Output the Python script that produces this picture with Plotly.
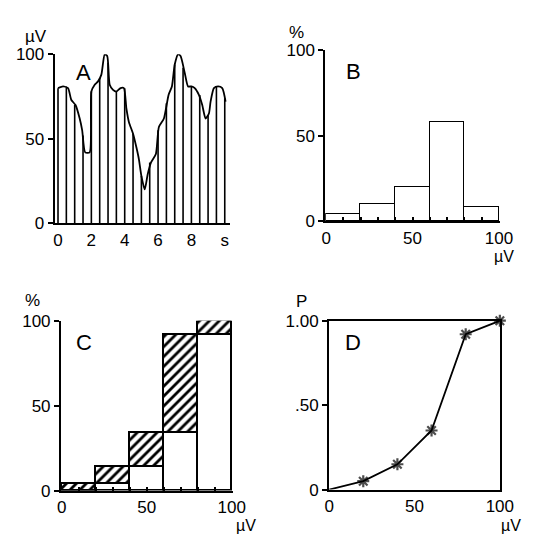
import plotly.graph_objects as go

# ---------------- data ----------------
# Panel A: envelope of the signal (time s, amplitude µV)
env_t = [0.0, 0.3, 0.6, 0.8, 1.05, 1.3, 1.45, 1.63, 1.9, 2.0, 2.2, 2.4, 2.6, 2.8, 2.95, 3.1, 3.3, 3.5,
         3.75, 3.95, 4.1, 4.25, 4.5, 4.7, 4.85, 5.0, 5.2, 5.38, 5.58, 5.87, 6.05, 6.35, 6.63, 6.83,
         7.0, 7.2, 7.35, 7.6, 7.8, 8.0, 8.2, 8.45, 8.65, 8.85, 9.05, 9.15, 9.35, 9.6, 9.85, 10.05]
env_v = [80, 81, 80, 73, 70, 62, 55, 42, 42, 78, 82, 84, 88, 100, 99, 82, 79, 78,
         80, 80, 68, 60, 53, 45, 38, 28, 20, 29, 36, 41, 57, 62, 76, 81,
         94, 100, 99, 89, 81, 81, 80, 76, 70, 62, 65, 72, 80, 81, 80, 72]
# vertical sample lines every 0.5 s (heights)
line_t = [0, 0.5, 1.0, 1.5, 2.0, 2.5, 3.0, 3.5, 4.0, 4.5, 5.0, 5.5, 6.0, 6.5, 7.0, 7.5, 8.0, 8.5, 9.0, 9.5, 10.0]
line_v = [80, 81, 70, 52, 78, 86, 95, 78, 80, 53, 28, 36, 55, 71, 94, 92, 81, 76, 64, 81, 74]
a_tickvals = [0, 2, 4, 6, 8, 10]
a_ticktext = ["0", "2", "4", "6", "8", "s"]

# Panels B / C: amplitude bins (µV)
bin_centers = [10, 30, 50, 70, 90]
bin_width = 20
b_percent = [4, 10, 20, 58, 8]          # B: distribution
c_below = [0, 4, 14, 34, 92]            # C: cumulative up to previous bin (white)
c_bin = [4, 10, 20, 58, 8]              # C: this bin's share (hatched)

# Panel D: cumulative probability
d_x = [0, 20, 40, 60, 80, 100]
d_p = [0, 0.05, 0.15, 0.35, 0.92, 1.00]

# ---------------- figure ----------------
W, H = 537, 544
FONT = "Liberation Sans, Arial, sans-serif"
def px(x):
    return x / W
def py(y):
    return 1 - y / H

fig = go.Figure()

# A: vertical lines
xs, ys = [], []
for t, v in zip(line_t, line_v):
    xs += [t, t, None]
    ys += [0, v, None]
fig.add_trace(go.Scatter(x=xs, y=ys, mode="lines", line=dict(color="black", width=1.6),
                         xaxis="x", yaxis="y", showlegend=False, hoverinfo="skip", cliponaxis=False))
fig.add_trace(go.Scatter(x=env_t, y=env_v, mode="lines", line=dict(color="black", width=1.8, shape="spline", smoothing=0.6),
                         xaxis="x", yaxis="y", showlegend=False, cliponaxis=False))

# B: histogram
fig.add_trace(go.Bar(x=bin_centers, y=b_percent, width=bin_width,
                     marker=dict(color="white", line=dict(color="black", width=1.6)),
                     xaxis="x2", yaxis="y2", showlegend=False))

# C: stacked cumulative
fig.add_trace(go.Bar(x=bin_centers, y=c_below, width=bin_width,
                     marker=dict(color="white", line=dict(color="black", width=1.6)),
                     xaxis="x3", yaxis="y3", showlegend=False))
fig.add_trace(go.Bar(x=bin_centers, y=c_bin, width=bin_width,
                     marker=dict(color="white", line=dict(color="black", width=1.6),
                                 pattern=dict(shape="/", fgcolor="black", bgcolor="white", size=7,
                                              solidity=0.4, fgopacity=1)),
                     xaxis="x3", yaxis="y3", showlegend=False))

# D: probability curve
fig.add_trace(go.Scatter(x=d_x, y=d_p, mode="lines+markers",
                         line=dict(color="black", width=1.8),
                         marker=dict(symbol=["circle"] + ["asterisk-open"] * 5, size=[0] + [10] * 5,
                                     color="black", line=dict(color="black", width=2.2)),
                         xaxis="x4", yaxis="y4", showlegend=False, cliponaxis=False))

tickfont = dict(family=FONT, size=17, color="black")
common = dict(showgrid=False, zeroline=False, showline=True, linecolor="black", linewidth=2,
              tickfont=tickfont, tickcolor="black", tickwidth=2, fixedrange=True)

fig.update_layout(
    width=W, height=H, margin=dict(l=0, r=0, t=0, b=0),
    paper_bgcolor="white", plot_bgcolor="white", barmode="stack", bargap=0,
    font=dict(family=FONT, color="black"),
    # A
    xaxis=dict(domain=[px(51.5), px(233)], range=[-0.2, 10.3], anchor="y",
               tickvals=a_tickvals, ticktext=a_ticktext, ticks="", **common),
    yaxis=dict(domain=[py(222), py(47)], range=[0, 100], anchor="x",
               tickvals=[0, 50, 100], ticks="outside", ticklen=5, **common),
    # B
    xaxis2=dict(domain=[px(332), px(513)], range=[-0.5, 100.5], anchor="y2",
                tickvals=[0, 50, 100], ticks="inside", ticklen=4,
                minor=dict(dtick=10, tick0=0, ticks="inside", ticklen=4, tickcolor="black", tickwidth=2), **common),
    yaxis2=dict(domain=[py(220), py(43)], range=[0, 100], anchor="x2",
                tickvals=[0, 50, 100], ticks="outside", ticklen=5, **common),
    # C
    xaxis3=dict(domain=[px(58), px(236)], range=[-0.5, 100.5], anchor="y3",
                tickvals=[0, 50, 100], ticks="inside", ticklen=4,
                minor=dict(dtick=10, tick0=0, ticks="inside", ticklen=4, tickcolor="black", tickwidth=2), **common),
    yaxis3=dict(domain=[py(499), py(323)], range=[0, 100], anchor="x3",
                tickvals=[0, 50, 100], ticks="outside", ticklen=5, **common),
    # D
    xaxis4=dict(domain=[px(336), px(513)], range=[0, 100], anchor="y4", mirror=True,
                tickvals=[0, 50, 100], ticks="", **common),
    yaxis4=dict(domain=[py(498), py(323)], range=[0, 1], anchor="x4", mirror=True,
                tickvals=[0, 0.5, 1.0], ticktext=["0", ".50", "1.00"], ticks="outside", ticklen=5, **common),
)

def label(x, y, text, size=17):
    fig.add_annotation(x=px(x), y=py(y), xref="paper", yref="paper", text=text, showarrow=False,
                       xanchor="center", yanchor="middle", font=dict(family=FONT, size=size, color="black"))

# axis unit labels
label(32, 29, "µV")
label(302, 24, "%")
label(517, 256, "µV", 16)
label(29, 302, "%")
label(250, 535, "µV", 16)
label(307, 303, "P")
label(525, 535, "µV", 16)
# panel letters
label(81, 66, "A", 22)
label(361, 65, "B", 22)
label(82, 346, "C", 22)
label(361, 346, "D", 22)

fig.write_html("out.html")
